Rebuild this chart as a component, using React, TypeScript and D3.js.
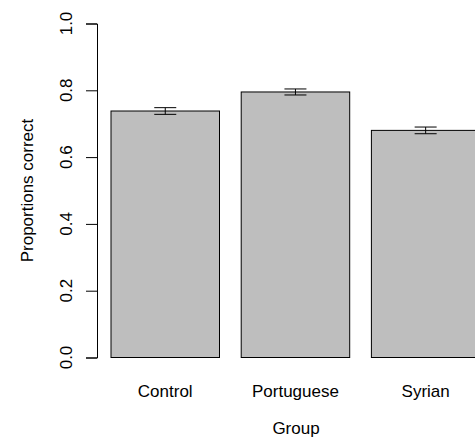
import React, { useEffect, useRef } from 'react';
import * as d3 from 'd3';

const groups = ['Control', 'Portuguese', 'Syrian'];
const proportions = [0.738, 0.795, 0.68];
const errors = [0.01, 0.009, 0.01];
const yTicks = [0, 0.2, 0.4, 0.6, 0.8, 1.0];

export default function App() {
    const ref = useRef<SVGSVGElement>(null);

    useEffect(() => {
        const svg = d3.select(ref.current);
        svg.selectAll('*').remove();

        const axisX = 97;
        const font = 'Liberation Sans, Arial, Helvetica, sans-serif';

        const y = d3.scaleLinear().domain([0, 1]).range([357.5, 23.5]);

        const step = 130.2;
        const x = d3.scaleBand()
            .domain(groups)
            .range([111 - step / 12, 111 - step / 12 + 3 * step])
            .paddingInner(1 / 6)
            .paddingOuter(1 / 12);

        const data = groups.map((g, i) => ({ name: g, value: proportions[i], err: errors[i] }));

        // bars
        svg.append('g')
            .selectAll('rect')
            .data(data)
            .enter()
            .append('rect')
            .attr('x', d => x(d.name)!)
            .attr('y', d => y(d.value))
            .attr('width', x.bandwidth())
            .attr('height', d => y(0) - y(d.value))
            .attr('fill', '#bebebe')
            .attr('stroke', '#000')
            .attr('stroke-width', 1);

        // error bars
        const eb = svg.append('g').attr('stroke', '#000').attr('stroke-width', 1);
        data.forEach(d => {
            const cx = x(d.name)! + x.bandwidth() / 2;
            eb.append('line').attr('x1', cx).attr('x2', cx)
                .attr('y1', y(d.value + d.err)).attr('y2', y(d.value - d.err));
            eb.append('line').attr('x1', cx - 11).attr('x2', cx + 11)
                .attr('y1', y(d.value + d.err)).attr('y2', y(d.value + d.err));
            eb.append('line').attr('x1', cx - 11).attr('x2', cx + 11)
                .attr('y1', y(d.value - d.err)).attr('y2', y(d.value - d.err));
        });

        // y axis
        const yAxis = svg.append('g')
            .attr('transform', `translate(${axisX},0)`)
            .call(d3.axisLeft(y).tickValues(yTicks).tickSize(11).tickFormat(d3.format('.1f')));
        yAxis.select('.domain').attr('stroke', '#000');
        yAxis.selectAll('.tick line').attr('stroke', '#000');
        yAxis.selectAll('.tick text').remove();
        yTicks.forEach(t => {
            svg.append('text')
                .attr('transform', `translate(72,${y(t)}) rotate(-90)`)
                .attr('text-anchor', 'middle')
                .attr('font-family', font)
                .attr('font-size', 17)
                .attr('fill', '#000')
                .text(d3.format('.1f')(t));
        });

        // x labels
        svg.append('g')
            .selectAll('text')
            .data(data)
            .enter()
            .append('text')
            .attr('x', d => x(d.name)! + x.bandwidth() / 2)
            .attr('y', 397)
            .attr('text-anchor', 'middle')
            .attr('font-family', font)
            .attr('font-size', 17)
            .text(d => d.name);

        svg.append('text')
            .attr('x', 296)
            .attr('y', 434)
            .attr('text-anchor', 'middle')
            .attr('font-family', font)
            .attr('font-size', 17)
            .text('Group');

        svg.append('text')
            .attr('transform', `translate(33,${(y(0) + y(1)) / 2}) rotate(-90)`)
            .attr('text-anchor', 'middle')
            .attr('font-family', font)
            .attr('font-size', 17)
            .text('Proportions correct');
    }, []);

    return (
        <svg ref={ref} width={475} height={438}
            style={{ position: 'absolute', left: 0, top: 0, background: '#fff' }} />
    );
}
